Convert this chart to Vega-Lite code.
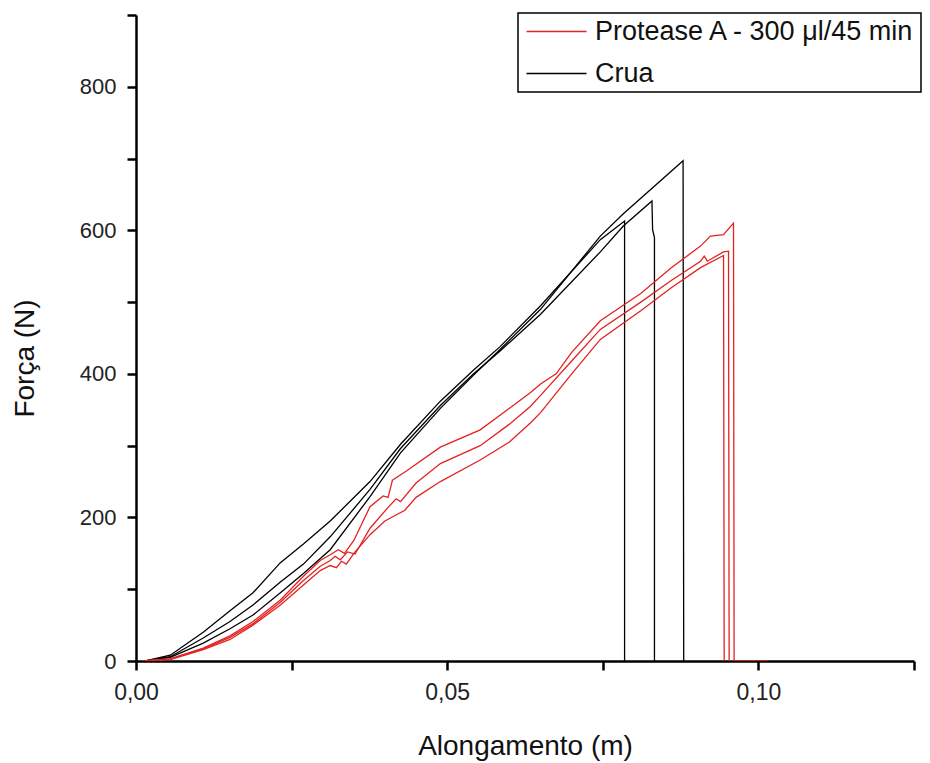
{
  "$schema": "https://vega.github.io/schema/vega-lite/v6.json",
  "width": 778,
  "height": 646,
  "autosize": {"type": "none"},
  "padding": {"left": 136, "top": 15, "right": 16, "bottom": 102},
  "background": "white",
  "config": {
    "view": {"stroke": null},
    "font": "Liberation Sans"
  },
  "data": {"values": [
    {"g":"Crua","s":"C1","i":0,"x":0.0015,"y":0},
    {"g":"Crua","s":"C1","i":1,"x":0.0055,"y":8},
    {"g":"Crua","s":"C1","i":2,"x":0.0108,"y":40},
    {"g":"Crua","s":"C1","i":3,"x":0.0151,"y":70},
    {"g":"Crua","s":"C1","i":4,"x":0.0188,"y":95},
    {"g":"Crua","s":"C1","i":5,"x":0.0232,"y":137},
    {"g":"Crua","s":"C1","i":6,"x":0.0269,"y":163},
    {"g":"Crua","s":"C1","i":7,"x":0.0312,"y":195},
    {"g":"Crua","s":"C1","i":8,"x":0.0376,"y":250},
    {"g":"Crua","s":"C1","i":9,"x":0.0425,"y":302},
    {"g":"Crua","s":"C1","i":10,"x":0.0489,"y":362},
    {"g":"Crua","s":"C1","i":11,"x":0.0542,"y":405},
    {"g":"Crua","s":"C1","i":12,"x":0.0585,"y":438},
    {"g":"Crua","s":"C1","i":13,"x":0.065,"y":495},
    {"g":"Crua","s":"C1","i":14,"x":0.0746,"y":587},
    {"g":"Crua","s":"C1","i":15,"x":0.0785,"y":613},
    {"g":"Crua","s":"C1","i":16,"x":0.0785,"y":0},

    {"g":"Crua","s":"C2","i":0,"x":0.0015,"y":0},
    {"g":"Crua","s":"C2","i":1,"x":0.0055,"y":6},
    {"g":"Crua","s":"C2","i":2,"x":0.0108,"y":32},
    {"g":"Crua","s":"C2","i":3,"x":0.0151,"y":55},
    {"g":"Crua","s":"C2","i":4,"x":0.0188,"y":78},
    {"g":"Crua","s":"C2","i":5,"x":0.0232,"y":110},
    {"g":"Crua","s":"C2","i":6,"x":0.0269,"y":135},
    {"g":"Crua","s":"C2","i":7,"x":0.0312,"y":173},
    {"g":"Crua","s":"C2","i":8,"x":0.0376,"y":239},
    {"g":"Crua","s":"C2","i":9,"x":0.0425,"y":296},
    {"g":"Crua","s":"C2","i":10,"x":0.0489,"y":356},
    {"g":"Crua","s":"C2","i":11,"x":0.0542,"y":400},
    {"g":"Crua","s":"C2","i":12,"x":0.0585,"y":432},
    {"g":"Crua","s":"C2","i":13,"x":0.065,"y":483},
    {"g":"Crua","s":"C2","i":14,"x":0.0746,"y":570},
    {"g":"Crua","s":"C2","i":15,"x":0.0783,"y":606},
    {"g":"Crua","s":"C2","i":16,"x":0.0829,"y":641},
    {"g":"Crua","s":"C2","i":17,"x":0.083,"y":601},
    {"g":"Crua","s":"C2","i":18,"x":0.0833,"y":590},
    {"g":"Crua","s":"C2","i":19,"x":0.0833,"y":0},

    {"g":"Crua","s":"C3","i":0,"x":0.0015,"y":0},
    {"g":"Crua","s":"C3","i":1,"x":0.0055,"y":5},
    {"g":"Crua","s":"C3","i":2,"x":0.0108,"y":25},
    {"g":"Crua","s":"C3","i":3,"x":0.0151,"y":45},
    {"g":"Crua","s":"C3","i":4,"x":0.0188,"y":64},
    {"g":"Crua","s":"C3","i":5,"x":0.0232,"y":95},
    {"g":"Crua","s":"C3","i":6,"x":0.0269,"y":122},
    {"g":"Crua","s":"C3","i":7,"x":0.0312,"y":155},
    {"g":"Crua","s":"C3","i":8,"x":0.0376,"y":229},
    {"g":"Crua","s":"C3","i":9,"x":0.0425,"y":290},
    {"g":"Crua","s":"C3","i":10,"x":0.0489,"y":352},
    {"g":"Crua","s":"C3","i":11,"x":0.0542,"y":398},
    {"g":"Crua","s":"C3","i":12,"x":0.0585,"y":434},
    {"g":"Crua","s":"C3","i":13,"x":0.065,"y":490},
    {"g":"Crua","s":"C3","i":14,"x":0.0746,"y":592},
    {"g":"Crua","s":"C3","i":15,"x":0.0783,"y":623},
    {"g":"Crua","s":"C3","i":16,"x":0.0879,"y":697},
    {"g":"Crua","s":"C3","i":17,"x":0.088,"y":0},

    {"g":"Protease A - 300 μl/45 min","s":"P1","i":0,"x":0.0011,"y":0},
    {"g":"Protease A - 300 μl/45 min","s":"P1","i":1,"x":0.0055,"y":3},
    {"g":"Protease A - 300 μl/45 min","s":"P1","i":2,"x":0.0108,"y":18},
    {"g":"Protease A - 300 μl/45 min","s":"P1","i":3,"x":0.0151,"y":35},
    {"g":"Protease A - 300 μl/45 min","s":"P1","i":4,"x":0.0188,"y":55},
    {"g":"Protease A - 300 μl/45 min","s":"P1","i":5,"x":0.0232,"y":85},
    {"g":"Protease A - 300 μl/45 min","s":"P1","i":6,"x":0.0269,"y":118},
    {"g":"Protease A - 300 μl/45 min","s":"P1","i":7,"x":0.0296,"y":140},
    {"g":"Protease A - 300 μl/45 min","s":"P1","i":8,"x":0.0312,"y":148},
    {"g":"Protease A - 300 μl/45 min","s":"P1","i":9,"x":0.0325,"y":155},
    {"g":"Protease A - 300 μl/45 min","s":"P1","i":10,"x":0.0335,"y":150},
    {"g":"Protease A - 300 μl/45 min","s":"P1","i":11,"x":0.035,"y":168},
    {"g":"Protease A - 300 μl/45 min","s":"P1","i":12,"x":0.0376,"y":215},
    {"g":"Protease A - 300 μl/45 min","s":"P1","i":13,"x":0.0397,"y":230},
    {"g":"Protease A - 300 μl/45 min","s":"P1","i":14,"x":0.0405,"y":228},
    {"g":"Protease A - 300 μl/45 min","s":"P1","i":15,"x":0.0412,"y":252},
    {"g":"Protease A - 300 μl/45 min","s":"P1","i":16,"x":0.0435,"y":265},
    {"g":"Protease A - 300 μl/45 min","s":"P1","i":17,"x":0.0489,"y":298},
    {"g":"Protease A - 300 μl/45 min","s":"P1","i":18,"x":0.0553,"y":322},
    {"g":"Protease A - 300 μl/45 min","s":"P1","i":19,"x":0.06,"y":352},
    {"g":"Protease A - 300 μl/45 min","s":"P1","i":20,"x":0.0634,"y":374},
    {"g":"Protease A - 300 μl/45 min","s":"P1","i":21,"x":0.065,"y":386},
    {"g":"Protease A - 300 μl/45 min","s":"P1","i":22,"x":0.0675,"y":400},
    {"g":"Protease A - 300 μl/45 min","s":"P1","i":23,"x":0.07,"y":430},
    {"g":"Protease A - 300 μl/45 min","s":"P1","i":24,"x":0.0746,"y":474},
    {"g":"Protease A - 300 μl/45 min","s":"P1","i":25,"x":0.0811,"y":512},
    {"g":"Protease A - 300 μl/45 min","s":"P1","i":26,"x":0.086,"y":548},
    {"g":"Protease A - 300 μl/45 min","s":"P1","i":27,"x":0.0907,"y":578},
    {"g":"Protease A - 300 μl/45 min","s":"P1","i":28,"x":0.0923,"y":592},
    {"g":"Protease A - 300 μl/45 min","s":"P1","i":29,"x":0.0944,"y":594},
    {"g":"Protease A - 300 μl/45 min","s":"P1","i":30,"x":0.096,"y":610},
    {"g":"Protease A - 300 μl/45 min","s":"P1","i":31,"x":0.0961,"y":0},
    {"g":"Protease A - 300 μl/45 min","s":"P1","i":32,"x":0.1015,"y":0},

    {"g":"Protease A - 300 μl/45 min","s":"P2","i":0,"x":0.0011,"y":0},
    {"g":"Protease A - 300 μl/45 min","s":"P2","i":1,"x":0.0055,"y":3},
    {"g":"Protease A - 300 μl/45 min","s":"P2","i":2,"x":0.0108,"y":17},
    {"g":"Protease A - 300 μl/45 min","s":"P2","i":3,"x":0.0151,"y":33},
    {"g":"Protease A - 300 μl/45 min","s":"P2","i":4,"x":0.0188,"y":52},
    {"g":"Protease A - 300 μl/45 min","s":"P2","i":5,"x":0.0232,"y":82},
    {"g":"Protease A - 300 μl/45 min","s":"P2","i":6,"x":0.0269,"y":112},
    {"g":"Protease A - 300 μl/45 min","s":"P2","i":7,"x":0.0296,"y":132},
    {"g":"Protease A - 300 μl/45 min","s":"P2","i":8,"x":0.0312,"y":140},
    {"g":"Protease A - 300 μl/45 min","s":"P2","i":9,"x":0.032,"y":146},
    {"g":"Protease A - 300 μl/45 min","s":"P2","i":10,"x":0.0328,"y":141},
    {"g":"Protease A - 300 μl/45 min","s":"P2","i":11,"x":0.034,"y":152},
    {"g":"Protease A - 300 μl/45 min","s":"P2","i":12,"x":0.0352,"y":149},
    {"g":"Protease A - 300 μl/45 min","s":"P2","i":13,"x":0.0376,"y":185},
    {"g":"Protease A - 300 μl/45 min","s":"P2","i":14,"x":0.0405,"y":214},
    {"g":"Protease A - 300 μl/45 min","s":"P2","i":15,"x":0.0418,"y":226},
    {"g":"Protease A - 300 μl/45 min","s":"P2","i":16,"x":0.0425,"y":222},
    {"g":"Protease A - 300 μl/45 min","s":"P2","i":17,"x":0.045,"y":248},
    {"g":"Protease A - 300 μl/45 min","s":"P2","i":18,"x":0.0489,"y":275},
    {"g":"Protease A - 300 μl/45 min","s":"P2","i":19,"x":0.0553,"y":300},
    {"g":"Protease A - 300 μl/45 min","s":"P2","i":20,"x":0.06,"y":330},
    {"g":"Protease A - 300 μl/45 min","s":"P2","i":21,"x":0.0634,"y":355},
    {"g":"Protease A - 300 μl/45 min","s":"P2","i":22,"x":0.065,"y":370},
    {"g":"Protease A - 300 μl/45 min","s":"P2","i":23,"x":0.07,"y":418},
    {"g":"Protease A - 300 μl/45 min","s":"P2","i":24,"x":0.0746,"y":462},
    {"g":"Protease A - 300 μl/45 min","s":"P2","i":25,"x":0.0811,"y":500},
    {"g":"Protease A - 300 μl/45 min","s":"P2","i":26,"x":0.086,"y":530},
    {"g":"Protease A - 300 μl/45 min","s":"P2","i":27,"x":0.0907,"y":557},
    {"g":"Protease A - 300 μl/45 min","s":"P2","i":28,"x":0.0913,"y":564},
    {"g":"Protease A - 300 μl/45 min","s":"P2","i":29,"x":0.0918,"y":557},
    {"g":"Protease A - 300 μl/45 min","s":"P2","i":30,"x":0.0944,"y":570},
    {"g":"Protease A - 300 μl/45 min","s":"P2","i":31,"x":0.0952,"y":571},
    {"g":"Protease A - 300 μl/45 min","s":"P2","i":32,"x":0.0953,"y":0},

    {"g":"Protease A - 300 μl/45 min","s":"P3","i":0,"x":0.0011,"y":0},
    {"g":"Protease A - 300 μl/45 min","s":"P3","i":1,"x":0.0055,"y":2},
    {"g":"Protease A - 300 μl/45 min","s":"P3","i":2,"x":0.0108,"y":16},
    {"g":"Protease A - 300 μl/45 min","s":"P3","i":3,"x":0.0151,"y":30},
    {"g":"Protease A - 300 μl/45 min","s":"P3","i":4,"x":0.0188,"y":50},
    {"g":"Protease A - 300 μl/45 min","s":"P3","i":5,"x":0.0232,"y":78},
    {"g":"Protease A - 300 μl/45 min","s":"P3","i":6,"x":0.0269,"y":106},
    {"g":"Protease A - 300 μl/45 min","s":"P3","i":7,"x":0.0296,"y":126},
    {"g":"Protease A - 300 μl/45 min","s":"P3","i":8,"x":0.0312,"y":133},
    {"g":"Protease A - 300 μl/45 min","s":"P3","i":9,"x":0.0322,"y":130},
    {"g":"Protease A - 300 μl/45 min","s":"P3","i":10,"x":0.033,"y":139},
    {"g":"Protease A - 300 μl/45 min","s":"P3","i":11,"x":0.0338,"y":135},
    {"g":"Protease A - 300 μl/45 min","s":"P3","i":12,"x":0.035,"y":150},
    {"g":"Protease A - 300 μl/45 min","s":"P3","i":13,"x":0.0376,"y":176},
    {"g":"Protease A - 300 μl/45 min","s":"P3","i":14,"x":0.04,"y":195},
    {"g":"Protease A - 300 μl/45 min","s":"P3","i":15,"x":0.0432,"y":210},
    {"g":"Protease A - 300 μl/45 min","s":"P3","i":16,"x":0.045,"y":228},
    {"g":"Protease A - 300 μl/45 min","s":"P3","i":17,"x":0.0489,"y":250},
    {"g":"Protease A - 300 μl/45 min","s":"P3","i":18,"x":0.0553,"y":280},
    {"g":"Protease A - 300 μl/45 min","s":"P3","i":19,"x":0.06,"y":305},
    {"g":"Protease A - 300 μl/45 min","s":"P3","i":20,"x":0.0634,"y":332},
    {"g":"Protease A - 300 μl/45 min","s":"P3","i":21,"x":0.065,"y":346},
    {"g":"Protease A - 300 μl/45 min","s":"P3","i":22,"x":0.07,"y":400},
    {"g":"Protease A - 300 μl/45 min","s":"P3","i":23,"x":0.0746,"y":448},
    {"g":"Protease A - 300 μl/45 min","s":"P3","i":24,"x":0.0811,"y":488},
    {"g":"Protease A - 300 μl/45 min","s":"P3","i":25,"x":0.086,"y":520},
    {"g":"Protease A - 300 μl/45 min","s":"P3","i":26,"x":0.0907,"y":548},
    {"g":"Protease A - 300 μl/45 min","s":"P3","i":27,"x":0.0944,"y":565},
    {"g":"Protease A - 300 μl/45 min","s":"P3","i":28,"x":0.0945,"y":0}
  ]},
  "mark": {"type": "line", "strokeWidth": 1.3, "clip": true},
  "encoding": {
    "x": {
      "field": "x", "type": "quantitative",
      "scale": {"domain": [0, 0.125], "nice": false, "zero": false},
      "axis": {
        "title": "Alongamento (m)",
        "values": [0, 0.025, 0.05, 0.075, 0.1, 0.125],
        "labelExpr": "round(datum.value*1000) % 50 == 0 ? replace(format(datum.value, '.2f'), '.', ',') : ''",
        "labelFlush": false,
        "grid": false,
        "domainColor": "#000000", "domainWidth": 2.5,
        "tickColor": "#000000", "tickWidth": 2.5, "tickSize": 9,
        "labelFontSize": 23, "labelColor": "#222222", "labelPadding": 11,
        "labelFont": "Liberation Sans",
        "titleFontSize": 28, "titleFontWeight": "normal", "titleColor": "#111111",
        "titleFont": "Liberation Sans", "titlePadding": 28
      }
    },
    "y": {
      "field": "y", "type": "quantitative",
      "scale": {"domain": [0, 900], "nice": false},
      "axis": {
        "title": "Força (N)",
        "values": [0, 100, 200, 300, 400, 500, 600, 700, 800, 900],
        "labelExpr": "datum.value % 200 == 0 ? datum.label : ''",
        "labelFlush": false,
        "grid": false,
        "domainColor": "#000000", "domainWidth": 2.5,
        "tickColor": "#000000", "tickWidth": 2.5, "tickSize": 9,
        "labelFontSize": 22, "labelColor": "#222222", "labelPadding": 11,
        "labelFont": "Liberation Sans",
        "titleFontSize": 28, "titleFontWeight": "normal", "titleColor": "#111111",
        "titleFont": "Liberation Sans", "titlePadding": 40, "titleY": 343
      }
    },
    "color": {
      "field": "g", "type": "nominal",
      "scale": {"domain": ["Protease A - 300 μl/45 min", "Crua"], "range": ["#e32222", "#000000"]},
      "legend": {
        "title": null,
        "orient": "none",
        "legendX": 382,
        "legendY": -2,
        "strokeColor": "#000000",
        "fillColor": "white",
        "padding": 5,
        "symbolType": "M-1,0H5",
        "symbolSize": 400,
        "symbolStrokeWidth": 1.3,
        "labelFontSize": 27,
        "labelFont": "Liberation Sans",
        "labelColor": "#111111",
        "labelOffset": 45,
        "labelLimit": 0,
        "rowPadding": 14,
        "encode": {"legend": {"update": {"strokeWidth": {"value": 1.5}}}}
      }
    },
    "detail": {"field": "s"},
    "order": {"field": "i", "type": "quantitative"}
  }
}
